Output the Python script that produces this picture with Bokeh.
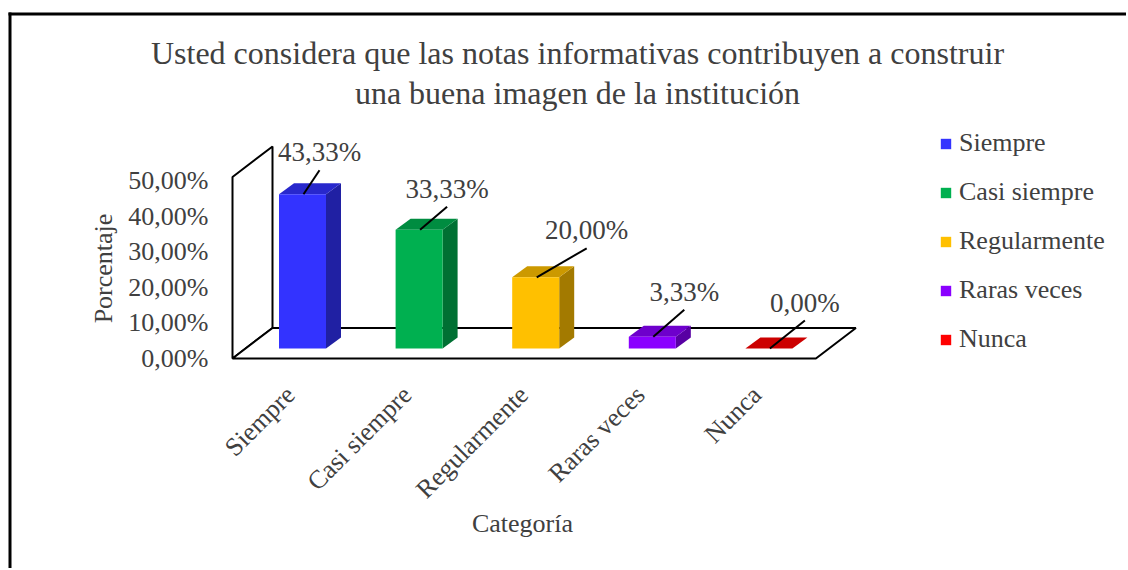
import math
from bokeh.plotting import figure
from bokeh.models import ColumnDataSource, Range1d, FixedTicker, Legend, LegendItem, LinearAxis
from bokeh.core.properties import value
from bokeh.embed import file_html
from bokeh.resources import INLINE

# ---------------- data ----------------
categories = ["Siempre", "Casi siempre", "Regularmente", "Raras veces", "Nunca"]
percentages = [43.33, 33.33, 20.00, 3.33, 0.00]
value_labels = ["43,33%", "33,33%", "20,00%", "3,33%", "0,00%"]
y_ticks = [0, 10, 20, 30, 40, 50]
y_tick_labels = ["0,00%", "10,00%", "20,00%", "30,00%", "40,00%", "50,00%"]
title_lines = ["Usted considera que las notas informativas contribuyen a construir",
               "una buena imagen de la institución"]
x_title = "Categoría"
y_title = "Porcentaje"

# ---------------- style ----------------
front_colors = ["#3333FF", "#00B050", "#FFC000", "#8A00FF", "#FF0000"]
FONT = "Liberation Serif"
TXT = "#404040"

def shade(hex_color, f):
    r, g, b = (int(hex_color[i:i + 2], 16) for i in (1, 3, 5))
    return "#%02x%02x%02x" % (int(r * f), int(g * f), int(b * f))

top_colors = [shade(c, 0.8) for c in front_colors]
side_colors = [shade(c, 0.64) for c in front_colors]

# page geometry (Bokeh's page template has no body margin)
OX, OY = 0, 0
W, H = 1126, 568
PXX = 116.6      # px per category step
PXY = 3.56       # px per percent
X0 = 302         # page x of first category
Y0 = 358         # page y of 0 %

def dx(px):
    return px / PXX

def dy(px):
    return px / PXY

p = figure(width=W, height=H, output_backend="svg", toolbar_location=None,
           x_range=Range1d(dx(OX - X0), dx(OX + W - X0)),
           y_range=Range1d(dy(Y0 - (OY + H)), dy(Y0 - OY)),
           x_axis_location=None, y_axis_location=None,
           min_border_left=0, min_border_right=0,
           min_border_top=0, min_border_bottom=0)
p.outline_line_color = None
p.grid.visible = False
p.background_fill_color = "white"
p.border_fill_color = "white"

n = len(categories)
xL = dx(232 - X0)     # front edge of the side wall

# y axis fixed on the wall front edge
ya = LinearAxis(fixed_location=xL)
ya.ticker = FixedTicker(ticks=y_ticks)
ya.major_label_overrides = {t: l for t, l in zip(y_ticks, y_tick_labels)}
ya.axis_line_color = None
ya.major_tick_line_color = None
ya.minor_tick_line_color = None
ya.major_tick_in = 0
ya.major_tick_out = 0
ya.major_label_standoff = 24
ya.major_label_text_font = FONT
ya.major_label_text_font_size = "26px"
ya.major_label_text_color = TXT
p.add_layout(ya, "left")

# outer frame lines (top / left) of the original picture
p.line([dx(8 - X0), dx(OX + W + 5 - X0)], [dy(Y0 - 13.5)] * 2, line_color="black", line_width=3)
p.line([dx(9.5 - X0)] * 2, [dy(Y0 - 12), dy(Y0 - OY - H - 5)], line_color="black", line_width=3)

# 3D box: wall + floor
FDX, FDY = dx(40), dy(30.5)
xR = (n - 1) + dx(47)
wall_top = y_ticks[-1] + 1
p.patch([xL, xL, xL + FDX, xL + FDX], [0, wall_top, wall_top + FDY, FDY],
        fill_color="white", line_color="black", line_width=2)
p.patch([xL, xR, xR + FDX, xL + FDX], [0, 0, FDY, FDY],
        fill_color="white", line_color="black", line_width=2)

# bars
BASE = dy(10)
HW = dx(23.5)
BDX, BDY = dx(15), dy(11)
xs_i = list(range(n))
tops = [BASE + v for v in percentages]

side_xs = [[i + HW, i + HW + BDX, i + HW + BDX, i + HW] for i in xs_i]
side_ys = [[BASE, BASE + BDY, t + BDY, t] for t in tops]
p.patches(side_xs, side_ys, fill_color=side_colors, line_color=None)
top_xs = [[i - HW, i + HW, i + HW + BDX, i - HW + BDX] for i in xs_i]
top_ys = [[t, t, t + BDY, t + BDY] for t in tops]
p.patches(top_xs, top_ys, fill_color=top_colors, line_color=None)

src = ColumnDataSource(dict(left=[i - HW for i in xs_i], right=[i + HW for i in xs_i],
                            bottom=[BASE] * n, top=tops, color=front_colors, cat=categories))
front = p.quad(left="left", right="right", bottom="bottom", top="top",
               fill_color="color", line_color=None, source=src)

# leader lines + value labels
lab_dx = [17, 28, 51, 32, 36]
lab_dy = [24, 23, 29, 27, 28]
x0s = [i + dx(1) for i in xs_i]
x1s = [i + dx(d) for i, d in zip(xs_i, lab_dx)]
y1s = [t + dy(d) for t, d in zip(tops, lab_dy)]
p.segment(x0s, tops, x1s, y1s, line_color="black", line_width=2)
p.text(x1s, [y + dy(18) for y in y1s], text=value_labels, text_align="center",
       text_baseline="middle", text_font=value(FONT), text_font_size="27px", text_color=TXT)

# category labels (slanted)
p.text([i - dx(12) for i in xs_i], [dy(Y0 - 390)] * n, text=categories, angle=math.pi / 4,
       text_align="right", text_baseline="middle", text_font=value(FONT),
       text_font_size="26px", text_color=TXT)
p.text([dx(522 - X0)], [dy(Y0 - 523)], text=[x_title], text_align="center", text_baseline="middle",
       text_font=value(FONT), text_font_size="26px", text_color=TXT)
p.text([dx(103 - X0)], [dy(Y0 - 268)], text=[y_title], angle=math.pi / 2, text_align="center",
       text_baseline="middle", text_font=value(FONT), text_font_size="26px", text_color=TXT)

# title
p.text([dx(577 - X0)] * 2, [dy(Y0 - 52), dy(Y0 - 92)], text=title_lines, text_align="center",
       text_baseline="middle", text_font=value(FONT), text_font_size="32px", text_color=TXT)

# legend
legend = Legend(items=[LegendItem(label=c, renderers=[front], index=i) for i, c in enumerate(categories)],
                location=(939 - OX, OY + H - 354), glyph_width=13, glyph_height=13,
                label_text_font=FONT, label_text_font_size="26px", label_text_color=TXT,
                label_standoff=7, spacing=19, label_height=30, padding=0, margin=0,
                border_line_color=None, background_fill_alpha=0)
p.add_layout(legend)

open("out.html", "w").write(file_html(p, INLINE))
